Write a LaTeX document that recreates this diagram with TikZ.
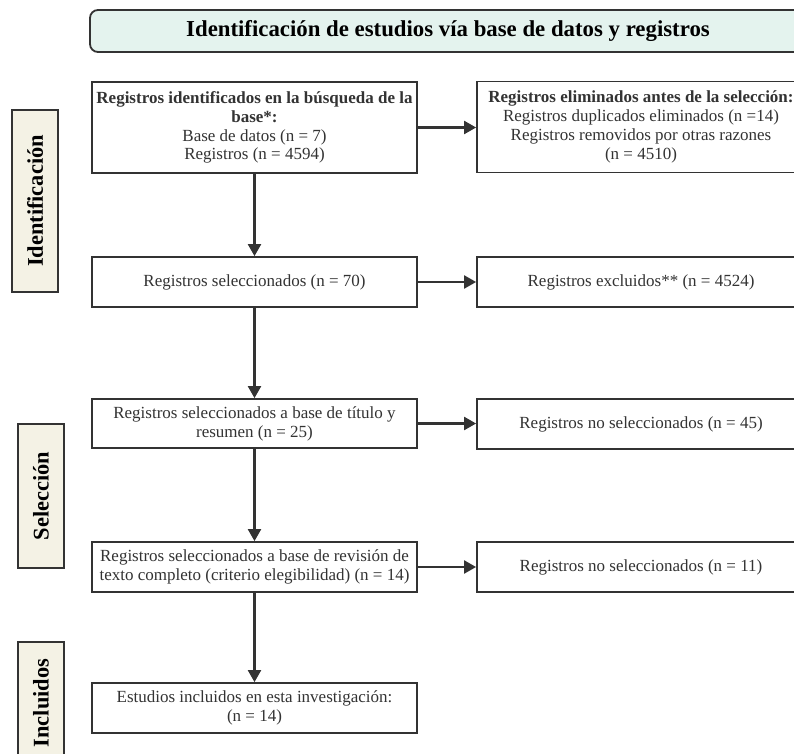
\documentclass[tikz,border=0pt]{standalone}
\usepackage{fontspec}
\setmainfont{Liberation Serif}
\usetikzlibrary{arrows.meta}
\definecolor{edge}{HTML}{333333}
\definecolor{mint}{HTML}{E4F3EE}
\definecolor{cream}{HTML}{F4F2E5}
\begin{document}
\begin{tikzpicture}[x=1pt,y=-1pt,
  box/.style={draw=edge, line width=1.8pt, fill=white, align=center, inner sep=1pt,
    font=\fontsize{17}{18.8}\selectfont, text=black!80},
  lbox/.style={box, minimum width=325pt},
  rbox/.style={box, minimum width=328pt},
  side/.style={draw=edge, line width=1.8pt, fill=cream, rotate=90, minimum height=46pt,
    font=\bfseries\fontsize{22.4}{24}\selectfont, inner sep=0pt},
  arr/.style={draw=edge, line width=2.2pt, -{Triangle[length=12pt,width=13pt]}}]
\useasboundingbox (0,0) rectangle (794,753);
\clip (0,0) rectangle (794,753);
% title
\node[draw=edge, line width=1.8pt, fill=mint, rounded corners=8pt, minimum width=716pt,
  minimum height=42pt, font=\bfseries\fontsize{22.8}{24}\selectfont, inner sep=0pt]
  (title) at (448,31) {Identificación de estudios vía base de datos y registros};
% side labels
\node[side, minimum width=182pt] (sid) at (35,201) {Identificación};
\node[side, minimum width=144pt] (ssel) at (41,496) {Selección};
\node[side, minimum width=122pt] (sinc) at (41,703) {Incluidos};
% left boxes
\node[lbox, minimum height=91pt] (b1) at (254.5,127.5)
  {\textbf{Registros identificados en la búsqueda de la}\\ \textbf{base*:}\\Base de datos (n = 7)\\Registros (n = 4594)};
\node[lbox, minimum height=50pt] (b2) at (254.5,282) {Registros seleccionados (n = 70)};
\node[lbox, minimum height=49pt] (b3) at (254.5,423.5) {Registros seleccionados a base de título y\\resumen (n = 25)};
\node[lbox, minimum height=50pt] (b4) at (254.5,567) {Registros seleccionados a base de revisión de\\texto completo (criterio elegibilidad) (n = 14)};
\node[lbox, minimum height=50pt] (b5) at (254.5,708) {Estudios incluidos en esta investigación:\\(n = 14)};
% right boxes
\node[rbox, minimum height=91pt] (r1) at (641,127)
  {\textbf{Registros eliminados antes de la selección:}\\Registros duplicados eliminados (n =14)\\Registros removidos por otras razones\\(n = 4510)};
\node[rbox, minimum height=50pt] (r2) at (641,282) {Registros excluidos** (n = 4524)};
\node[rbox, minimum height=50pt] (r3) at (641,424) {Registros no seleccionados (n = 45)};
\node[rbox, minimum height=50pt] (r4) at (641,567) {Registros no seleccionados (n = 11)};
% arrows
\draw[arr] (b1) -- (b2);
\draw[arr] (b2) -- (b3);
\draw[arr] (b3) -- (b4);
\draw[arr] (b4) -- (b5);
\draw[arr] (b1.east) -- (b1.east -| r1.west);
\draw[arr] (b2.east) -- (b2.east -| r2.west);
\draw[arr] (b3.east) -- (b3.east -| r3.west);
\draw[arr] (b4.east) -- (b4.east -| r4.west);
\end{tikzpicture}
\end{document}
